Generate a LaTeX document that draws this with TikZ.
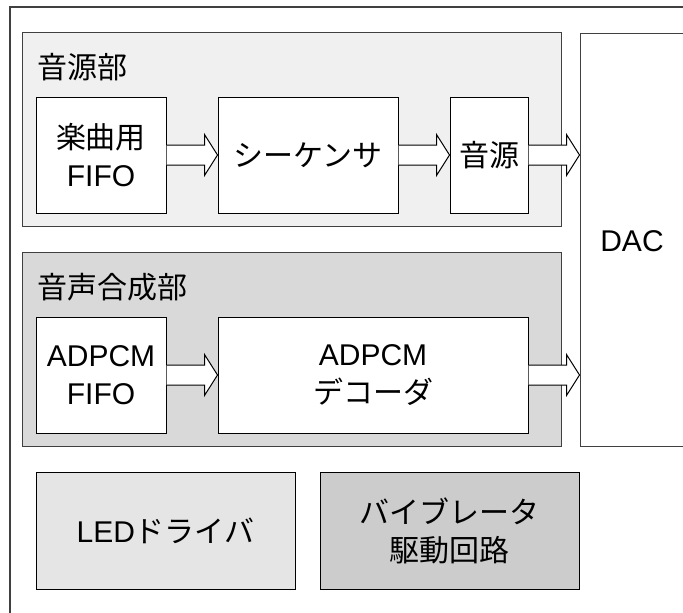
\documentclass[tikz,border=0pt]{standalone}
\usepackage{fontspec}
\setmainfont{Liberation Sans}
\newfontfamily\jp{Noto Sans CJK JP}
\usetikzlibrary{calc}
\definecolor{grpA}{gray}{0.94}
\definecolor{grpB}{gray}{0.85}
\definecolor{ledc}{gray}{0.90}
\definecolor{vibc}{gray}{0.80}
\definecolor{framec}{gray}{0.25}
\newcommand\blockarrow[2]{%
  \filldraw[barrow] let \p1=(#1.east), \p2=(#2.west) in
    (\x1,\y1+10pt) -- (\x2-13pt,\y1+10pt) -- (\x2-13pt,\y1+20.5pt) -- (\x2,\y1)
    -- (\x2-13pt,\y1-20.5pt) -- (\x2-13pt,\y1-10pt) -- (\x1,\y1-10pt);}
\begin{document}
\begin{tikzpicture}[x=1pt,y=-1pt,
  box/.style={draw=black, line width=1pt, fill=white, inner sep=0pt,
    font=\fontsize{30}{38}\selectfont, align=center},
  grp/.style={draw=framec, line width=1pt, inner sep=0pt},
  lbl/.style={inner sep=0pt, font=\fontsize{30}{38}\selectfont},
  barrow/.style={draw=black, fill=white, line width=1pt, line join=miter}]
\clip (0,0) rectangle (683,613);
\fill[white] (0,0) rectangle (683,613);
% outer frame
\draw[framec, line width=1.5pt] (690,7) -- (10,7) -- (10,620);
% groups
\node[grp, fill=grpA, minimum width=539pt, minimum height=194pt] (src) at (291.5,129) {};
\node[grp, fill=grpB, minimum width=539pt, minimum height=194pt] (voice) at (291.5,349) {};
\node[lbl, anchor=base west] (srclbl) at (37,78) {\jp 音源部};
\node[lbl, anchor=base west] (voicelbl) at (37,298) {\jp 音声合成部};
% boxes
\node[box, minimum width=130pt, minimum height=116pt] (fifo) at (101,155) {{\jp 楽曲用}\\FIFO};
\node[box, minimum width=180pt, minimum height=116pt] (seq) at (308,155) {\jp シーケンサ};
\node[box, minimum width=78pt, minimum height=116pt] (tone) at (489,155) {\jp 音源};
\node[box, minimum width=130pt, minimum height=116pt] (afifo) at (101,375) {ADPCM\\FIFO};
\node[box, minimum width=310pt, minimum height=116pt] (dec) at (373,375) {ADPCM\\{\jp デコーダ}};
\node[box, draw=framec, minimum width=120pt, minimum height=413pt] (dac) at (640,239.5) {};
\node[lbl, anchor=base] (dactext) at (632,251) {DAC};
\node[box, fill=ledc, minimum width=259pt, minimum height=117pt] (led) at (165.5,530.5) {LED{\jp ドライバ}};
\node[box, fill=vibc, minimum width=259pt, minimum height=117pt] (vib) at (449.5,530.5) {{\jp バイブレータ}\\{\jp 駆動回路}};
% arrows
\blockarrow{fifo}{seq}
\blockarrow{seq}{tone}
\blockarrow{tone}{dac}
\blockarrow{afifo}{dec}
\blockarrow{dec}{dac}
\end{tikzpicture}
\end{document}
